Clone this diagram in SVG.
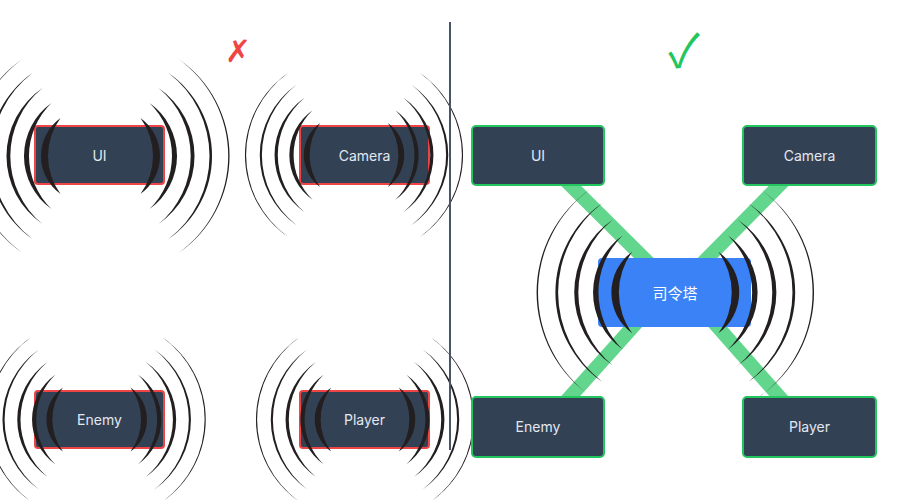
<svg xmlns="http://www.w3.org/2000/svg" xmlns:xlink="http://www.w3.org/1999/xlink" width="900" height="500" viewBox="0 0 900 500">
<style>
.node-bad{fill:#334155;stroke:#ef4444;stroke-width:2}
.node-ok{fill:#334155;stroke:#22c55e;stroke-width:2}
.hub{fill:#3b82f6}
.lbl{font-family:Inter,"Liberation Sans",sans-serif;font-size:14px;fill:#e2e8f0;text-anchor:middle;dominant-baseline:central}
.hublbl{font-family:"Noto Sans CJK SC","Noto Sans",sans-serif;font-size:15px;fill:#ffffff;text-anchor:middle;dominant-baseline:central}
.link{stroke:#63d68d;stroke-width:14;fill:none}
.wave{fill:#231f20}
</style>
<defs>
<g id="half">
<path class="wave" d="M40,-38 A46.8,46.8 0 0 1 40,38 A64,64 0 0 0 40,-38 Z"/>
<path class="wave" d="M49,-53 A64.8,64.8 0 0 1 49,53 A73.7,73.7 0 0 0 49,-53 Z"/>
<path class="wave" d="M58,-68 A82.2,82.2 0 0 1 58,68 A87.9,87.9 0 0 0 58,-68 Z"/>
<path class="wave" d="M68,-83 A100.9,100.9 0 0 1 68,83 A104.5,104.5 0 0 0 68,-83 Z"/>
<path class="wave" d="M78,-97 A117.7,117.7 0 0 1 78,97 A119.5,119.5 0 0 0 78,-97 Z"/>
</g>
<g id="rip">
<use href="#half"/>
<use href="#half" transform="scale(-1,1)"/>
</g>
</defs>
<rect width="900" height="500" fill="#ffffff"/>

<!-- left panel -->
<text x="238" y="51" font-family="DejaVu Sans,sans-serif" font-size="31" fill="#ef4444" text-anchor="middle" dominant-baseline="central">✗</text>
<g id="bad-ui">
<rect class="node-bad" x="35" y="126" width="129" height="58" rx="3"/>
<use href="#rip" transform="translate(100.5,156)"/>
<text class="lbl" x="99.5" y="155">UI</text>
</g>
<g id="bad-camera">
<rect class="node-bad" x="300" y="126" width="129" height="58" rx="3"/>
<use href="#rip" transform="translate(354,155) scale(0.845)"/>
<text class="lbl" x="364.5" y="155">Camera</text>
</g>
<g id="bad-enemy">
<rect class="node-bad" x="35" y="391" width="129" height="57" rx="3"/>
<use href="#rip" transform="translate(96.7,419.5) scale(0.845)"/>
<text class="lbl" x="99.5" y="419.5">Enemy</text>
</g>
<g id="bad-player">
<rect class="node-bad" x="300" y="391" width="129" height="57" rx="3"/>
<use href="#rip" transform="translate(365,419.5) scale(0.845)"/>
<text class="lbl" x="364.5" y="419.5">Player</text>
</g>

<line x1="450" y1="22" x2="450" y2="450" stroke="#475569" stroke-width="2"/>

<!-- right panel -->
<text x="684" y="47" font-family="Noto Sans CJK SC,DejaVu Sans,sans-serif" font-size="46" fill="#22c55e" text-anchor="middle" dominant-baseline="central">✓</text>
<g id="connectors">
<line class="link" x1="540" y1="155" x2="678" y2="292"/>
<line class="link" x1="809" y1="155" x2="674" y2="292"/>
<line class="link" x1="543" y1="427" x2="664" y2="292"/>
<line class="link" x1="806" y1="427" x2="687" y2="292"/>
</g>
<g id="ok-ui">
<rect class="node-ok" x="472" y="126" width="132" height="59" rx="4"/>
<text class="lbl" x="538" y="155.5">UI</text>
</g>
<g id="ok-camera">
<rect class="node-ok" x="743" y="126" width="133" height="59" rx="4"/>
<text class="lbl" x="809.5" y="155.5">Camera</text>
</g>
<g id="ok-enemy">
<rect class="node-ok" x="472" y="397" width="132" height="60" rx="4"/>
<text class="lbl" x="538" y="426.5">Enemy</text>
</g>
<g id="ok-player">
<rect class="node-ok" x="743" y="397" width="133" height="60" rx="4"/>
<text class="lbl" x="809.5" y="426.5">Player</text>
</g>
<g id="hub">
<rect class="hub" x="598" y="258" width="153" height="69" rx="4"/>
<use href="#rip" transform="translate(675.3,292.5) scale(1.075)"/>
<text class="hublbl" x="675" y="292">司令塔</text>
</g>
</svg>
